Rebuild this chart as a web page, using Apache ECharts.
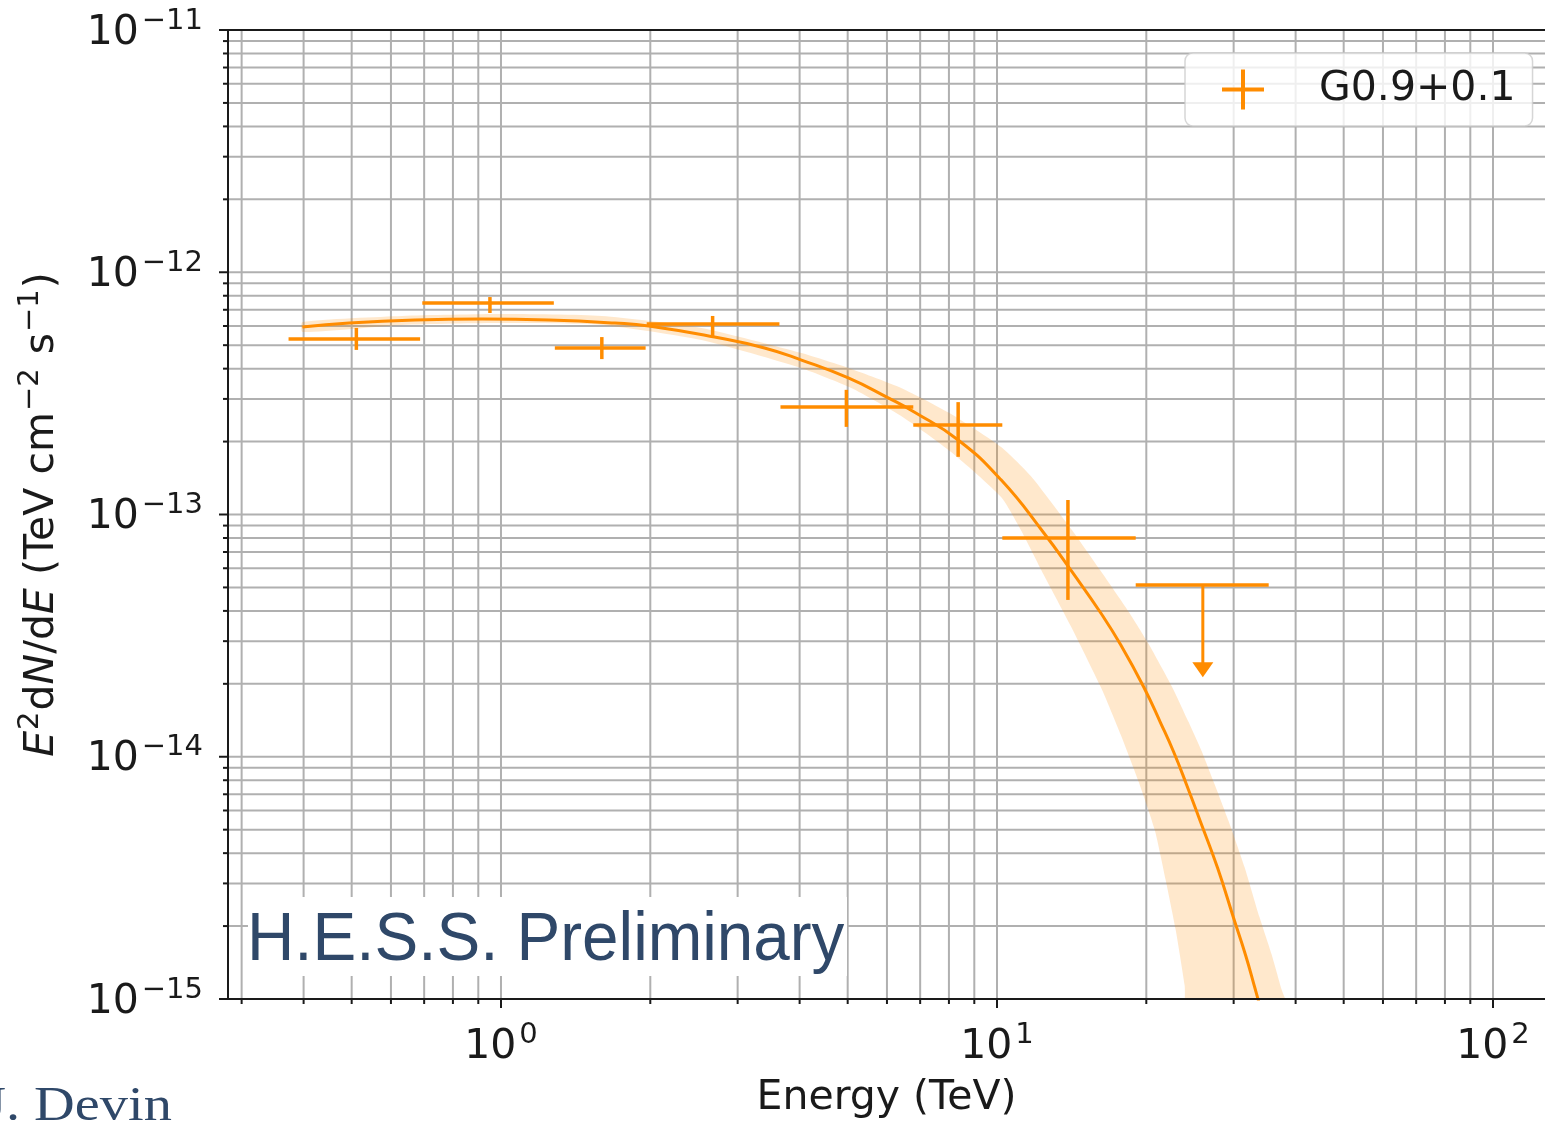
<!DOCTYPE html>
<html><head><meta charset="utf-8">
<script src="https://cdn.jsdelivr.net/npm/echarts@6/dist/echarts.min.js"></script>
<style>html,body{margin:0;padding:0;background:#fff}#c{width:1545px;height:1125px}</style>
</head><body><div id="c"></div>
<script>
// ---- flux points (TeV, TeV cm^-2 s^-1) ----
const energy   = [0.511, 0.950, 1.597, 2.671, 4.97, 8.35, 13.9];
const energyLo = [0.373, 0.694, 1.284, 1.967, 3.66, 6.78, 10.25];
const energyHi = [0.687, 1.278, 1.957, 3.642, 6.78, 10.25, 19.04];
const flux     = [5.30e-13, 7.46e-13, 4.87e-13, 6.11e-13, 2.78e-13, 2.34e-13, 8.00e-14];
const fluxLo   = [4.78e-13, 6.79e-13, 4.38e-13, 5.40e-13, 2.30e-13, 1.73e-13, 4.44e-14];
const fluxHi   = [5.89e-13, 7.90e-13, 5.40e-13, 6.60e-13, 3.27e-13, 2.91e-13, 1.148e-13];
// ---- upper limit ----
const ulEnergy   = [26.0];
const ulEnergyLo = [19.04];
const ulEnergyHi = [35.3];
const ulFlux     = [5.12e-14];
const ulFluxTo   = [2.13e-14];
// ---- best-fit model curve ----
const modelEnergy = [0.3978, 0.4945, 0.6714, 0.9157, 1.249, 1.696, 1.986, 2.695, 3.398, 4.034, 5.014, 6.036, 6.808, 8.35, 10.19, 12.43, 14.22,
                     16.19, 17.77, 19.76, 21.38, 22.71, 24.12, 25.73, 27.85, 29.99, 31.70, 33.20, 34.29];
const modelFlux   = [5.94e-13, 6.17e-13, 6.35e-13, 6.41e-13, 6.35e-13, 6.17e-13, 6.00e-13, 5.40e-13, 4.87e-13, 4.34e-13, 3.66e-13, 3.03e-13, 2.65e-13, 2.03e-13, 1.39e-13, 8.39e-14, 5.74e-14,
                     3.92e-14, 2.89e-14, 1.94e-14, 1.378e-14, 1.046e-14, 7.65e-15, 5.38e-15, 3.47e-15, 2.16e-15, 1.52e-15, 1.089e-15, 8.59e-16];
// ---- model uncertainty band ----
const bandUpperE = [0.3978, 0.6322, 1.005, 1.597, 2.537, 4.034, 5.085, 6.409, 8.08, 10.19, 11.70, 14.16, 16.19, 18.44, 20.22, 22.49, 24.34, 25.85, 27.45, 29.30, 31.55, 33.82, 35.76, 37.45, 39.04];
const bandUpperF = [6.23e-13, 6.60e-13, 6.72e-13, 6.60e-13, 5.89e-13, 4.64e-13, 3.99e-13, 3.33e-13, 2.60e-13, 1.90e-13, 1.442e-13, 8.63e-14, 5.84e-14, 3.96e-14, 2.92e-14, 1.96e-14, 1.391e-14, 1.056e-14, 7.72e-15, 5.43e-15, 3.51e-15, 2.18e-15, 1.534e-15, 1.10e-15, 8.19e-16];
const bandLowerE = [0.3978, 0.6322, 1.005, 1.597, 2.537, 4.034, 5.085, 6.409, 8.08, 10.19, 11.17, 12.43, 14.09, 16.19, 17.77, 19.31, 20.80, 21.88, 22.92, 23.89, 24.34];
const bandLowerF = [5.67e-13, 6.06e-13, 6.17e-13, 6.06e-13, 5.25e-13, 4.02e-13, 3.33e-13, 2.55e-13, 1.81e-13, 1.18e-13, 8.63e-14, 5.63e-14, 3.46e-14, 1.94e-14, 1.23e-14, 7.87e-15, 4.98e-15, 3.10e-15, 1.93e-15, 1.142e-15, 8.19e-16];
// ---- axes ----
const xDecades = [-1, 0, 1, 2];
const yDecades = [-15, -14, -13, -12, -11];
const xTickLabels = [0, 1, 2];
const yTickLabels = [-15, -14, -13, -12, -11];
const minorMultipliers = [2, 3, 4, 5, 6, 7, 8, 9];
const seriesName = 'G0.9+0.1';

const lg = Math.log10;
const X_MIN = lg(0.2816), X_MAX = lg(127.3), Y_MIN = -15, Y_MAX = -11;
const INK = '#1a1a1a', GRID = '#b0b0b0', ORANGE = '#ff8c00', SLATE = '#2f4869';
const FS = 41, FS_SUP = 29, LH = 47;

const xMajor = xDecades.filter(v => v >= X_MIN && v <= X_MAX);
const yMajor = yDecades.slice();
const xMinor = [], yMinor = [];
xDecades.forEach(d => minorMultipliers.forEach(k => { const v = d + lg(k); if (v > X_MIN && v < X_MAX) xMinor.push(v); }));
yDecades.forEach(d => minorMultipliers.forEach(k => { const v = d + lg(k); if (v > Y_MIN && v < Y_MAX) yMinor.push(v); }));

function supTxt(n) { return n < 0 ? '\u2212' + (-n) : String(n); }
function powLabel(v) {
  const n = Math.round(v);
  if (Math.abs(v - n) > 1e-6) return '';
  return '{b|10}{s|' + supTxt(n) + '}';
}
const labelRich = {
  b: { fontFamily: 'DejaVu Sans', fontSize: FS, lineHeight: LH, verticalAlign: 'bottom', color: INK },
  s: { fontFamily: 'DejaVu Sans', fontSize: FS_SUP, lineHeight: LH, verticalAlign: 'top', color: INK, padding: [0, 0, 0, 3] }
};
const nameRich = {
  i: { fontFamily: 'DejaVu Sans', fontStyle: 'italic', fontSize: FS, lineHeight: LH, verticalAlign: 'bottom', color: INK },
  n: { fontFamily: 'DejaVu Sans', fontSize: FS, lineHeight: LH, verticalAlign: 'bottom', color: INK },
  s: { fontFamily: 'DejaVu Sans', fontSize: FS_SUP, lineHeight: LH, verticalAlign: 'top', color: INK, padding: [0, 1, 0, 1] }
};
const yName = '{i|E}{s|2}{n|d}{i|N}{n|/d}{i|E}{n| (TeV cm}{s|\u22122}{n| s}{s|\u22121}{n|)}';

function seg(a, b, style) { return { type: 'line', shape: { x1: a[0], y1: a[1], x2: b[0], y2: b[1] }, style: style }; }

function renderGrid(params, api) {
  const ch = [];
  const gs = { stroke: GRID, lineWidth: 2 };
  xMajor.concat(xMinor).forEach(v => {
    if (v <= X_MIN + 1e-9 || v >= X_MAX - 1e-9) return;
    ch.push(seg(api.coord([v, Y_MIN]), api.coord([v, Y_MAX]), gs));
  });
  yMajor.concat(yMinor).forEach(v => {
    if (v <= Y_MIN + 1e-9 || v >= Y_MAX - 1e-9) return;
    ch.push(seg(api.coord([X_MIN, v]), api.coord([X_MAX, v]), gs));
  });
  const ts = { stroke: INK, lineWidth: 2 };
  xMajor.forEach(v => { const p = api.coord([v, Y_MIN]); ch.push(seg([p[0], p[1]], [p[0], p[1] + 9], ts)); });
  xMinor.forEach(v => { const p = api.coord([v, Y_MIN]); ch.push(seg([p[0], p[1]], [p[0], p[1] + 5], ts)); });
  yMajor.forEach(v => { const p = api.coord([X_MIN, v]); ch.push(seg([p[0], p[1]], [p[0] - 9, p[1]], ts)); });
  yMinor.forEach(v => { const p = api.coord([X_MIN, v]); ch.push(seg([p[0], p[1]], [p[0] - 5, p[1]], ts)); });
  ch.push(seg(api.coord([X_MIN, Y_MAX]), api.coord([X_MAX, Y_MAX]), { stroke: INK, lineWidth: 2 }));
  return { type: 'group', children: ch };
}

function renderBand(params, api) {
  const up = bandUpperE.map((e, i) => api.coord([lg(e), lg(bandUpperF[i])]));
  const lo = bandLowerE.map((e, i) => api.coord([lg(e), lg(bandLowerF[i])])).reverse();
  return { type: 'polygon', shape: { points: up.concat(lo), smooth: 0.2 }, style: { fill: 'rgba(255,140,0,0.2)' } };
}

const ebStyle = { stroke: ORANGE, lineWidth: 3.5 };
function renderPoints(params, api) {
  const c = api.coord([api.value(0), api.value(1)]);
  const l = api.coord([api.value(2), api.value(1)]);
  const r = api.coord([api.value(3), api.value(1)]);
  const lo = api.coord([api.value(0), api.value(4)]);
  const hi = api.coord([api.value(0), api.value(5)]);
  return { type: 'group', children: [
    seg([l[0], c[1]], [r[0], c[1]], ebStyle),
    seg([c[0], hi[1]], [c[0], lo[1]], ebStyle)
  ] };
}
function renderUL(params, api) {
  const c = api.coord([api.value(0), api.value(1)]);
  const l = api.coord([api.value(2), api.value(1)]);
  const r = api.coord([api.value(3), api.value(1)]);
  const t = api.coord([api.value(0), api.value(4)]);
  return { type: 'group', children: [
    seg([l[0], c[1]], [r[0], c[1]], ebStyle),
    seg([c[0], c[1]], [c[0], t[1] - 10], { stroke: ORANGE, lineWidth: 3 }),
    { type: 'polygon', shape: { points: [[c[0] - 10.5, t[1] - 15], [c[0] + 10.5, t[1] - 15], [c[0], t[1]]] }, style: { fill: ORANGE } }
  ] };
}

const pointData = energy.map((e, i) => [lg(e), lg(flux[i]), lg(energyLo[i]), lg(energyHi[i]), lg(fluxLo[i]), lg(fluxHi[i])]);
const ulData = ulEnergy.map((e, i) => [lg(e), lg(ulFlux[i]), lg(ulEnergyLo[i]), lg(ulEnergyHi[i]), lg(ulFluxTo[i])]);
const modelData = modelEnergy.map((e, i) => [lg(e), lg(modelFlux[i])]);

const chart = echarts.init(document.getElementById('c'), null, { renderer: 'canvas', width: 1545, height: 1125 });
chart.setOption({
  animation: false,
  backgroundColor: '#ffffff',
  grid: { left: 228, top: 30, right: 0, bottom: 126, containLabel: false },
  xAxis: {
    type: 'value', min: X_MIN, max: X_MAX, position: 'bottom', z: 5,
    axisLine: { show: true, onZero: false, lineStyle: { color: INK, width: 2 } },
    axisTick: { show: false }, splitLine: { show: false },
    axisLabel: { customValues: xTickLabels, formatter: powLabel, margin: 22, rich: labelRich },
    name: 'Energy (TeV)', nameLocation: 'middle', nameGap: 79,
    nameTextStyle: { fontFamily: 'DejaVu Sans', fontSize: FS, color: INK }
  },
  yAxis: {
    type: 'value', min: Y_MIN, max: Y_MAX, interval: 1, position: 'left', z: 5,
    axisLine: { show: true, onZero: false, lineStyle: { color: INK, width: 2 } },
    axisTick: { show: false }, splitLine: { show: false },
    axisLabel: { customValues: yTickLabels, formatter: powLabel, margin: 25, rich: labelRich },
    name: yName, nameLocation: 'middle', nameGap: 165,
    nameTextStyle: { fontFamily: 'DejaVu Sans', fontSize: FS, color: INK, rich: nameRich }
  },
  legend: {
    left: 1185, top: 53, orient: 'horizontal',
    padding: [16, 17, 16, 37],
    backgroundColor: 'rgba(255,255,255,0.8)', borderColor: 'rgba(204,204,204,0.8)', borderWidth: 1.5, borderRadius: 8,
    itemWidth: 42, itemHeight: 40,
    data: [{ name: seriesName, icon: 'path://M19,0H23V18H42V22H23V40H19V22H0V18H19Z' }],
    formatter: name => '{g| }' + name,
    textStyle: { fontFamily: 'DejaVu Sans', fontSize: FS, color: INK, rich: { g: { width: 50, fontSize: FS } } }
  },
  graphic: [
    { type: 'rect', z: 50, shape: { x: 248, y: 897, width: 599, height: 79 }, style: { fill: '#ffffff' } },
    { type: 'text', z: 51, x: 247, y: 941, scaleX: 0.95,
      style: { text: 'H.E.S.S. Preliminary', fontFamily: 'Liberation Sans', fontSize: 69, fill: SLATE, align: 'left', verticalAlign: 'middle', textAlign: 'left', textVerticalAlign: 'middle' } },
    { type: 'text', z: 51, x: -16, y: 1107, scaleX: 1.15,
      style: { text: 'J. Devin', fontFamily: 'Liberation Serif', fontSize: 49, fill: SLATE, align: 'left', verticalAlign: 'middle', textAlign: 'left', textVerticalAlign: 'middle' } }
  ],
  series: [
    { type: 'custom', name: 'grid', z: 1, silent: true, clip: false, data: [[0, -13]], renderItem: renderGrid },
    { type: 'custom', name: 'band', z: 2, silent: true, clip: true, data: [[0, -13]], renderItem: renderBand },
    { type: 'line', name: 'model', z: 3, silent: true, data: modelData, showSymbol: false, smooth: 0.5, clip: true,
      lineStyle: { color: ORANGE, width: 3 } },
    { type: 'custom', name: seriesName, z: 4, itemStyle: { color: ORANGE }, data: pointData, renderItem: renderPoints, encode: { x: 0, y: 1 } },
    { type: 'custom', name: seriesName, z: 4, itemStyle: { color: ORANGE }, data: ulData, renderItem: renderUL, encode: { x: 0, y: 1 } }
  ]
});
</script>
</body></html>
